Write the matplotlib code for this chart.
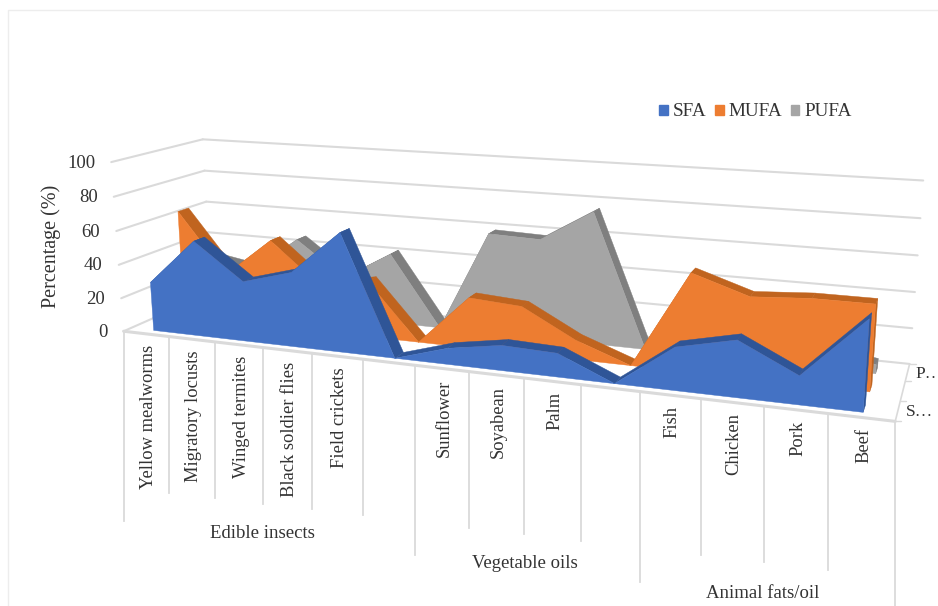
import numpy as np
import matplotlib
matplotlib.use("Agg")
import matplotlib.pyplot as plt
from matplotlib.patches import Patch

plt.rcParams["font.family"] = ["Liberation Serif", "DejaVu Serif"]

# Fatty acid composition (%) for each food; blank slots separate the groups
categories = ["Yellow mealworms", "Migratory locusts", "Winged termites",
              "Black soldier flies", "Field crickets", "",
              "Sunflower", "Soyabean", "Palm", "",
              "Fish", "Chicken", "Pork", "Beef"]
groups = ["Edible insects", "Vegetable oils", "Animal fats/oil"]
sfa = [29, 56, 35, 43, 68, 0, 9, 14, 13, 0, 23, 30, 15, 47]
mufa = [65, 29, 52, 28, 33, 0, 29, 27, 11, 0, 54, 44, 46, 46]
pufa = [30, 25, 46, 25, 42, 0, 59, 58, 76, 0, 20, 20, 10, 5]
value_ticks = [0, 20, 40, 60, 80, 100]
series_ticks = ["S…", "P…"]

COLORS = {"SFA": ("#4472C4", "#2F5597"),
          "MUFA": ("#ED7D31", "#C0641F"),
          "PUFA": ("#A5A5A5", "#7F7F7F")}
GRID = "#DADADA"
TEXT = "#333333"

# Camera solved from the box corners: (category, depth, percent) -> canvas pixel
corners = [((0, 0, 0), (125, 330)), ((14, 0, 0), (895, 423)),
           ((14, 1, 0), (910, 362)), ((0, 1, 0), (210, 294)),
           ((0, 0, 100), (110, 162)), ((0, 1, 100), (204, 139)),
           ((14, 1, 100), (923, 181))]
rows, rhs = [], []
for (u, d, z), (px, py) in corners:
    rows.append([u, d, z, 1, 0, 0, 0, 0, -px * u, -px * d, -px * z])
    rows.append([0, 0, 0, 0, u, d, z, 1, -py * u, -py * d, -py * z])
    rhs += [px, py]
cam = np.append(np.linalg.lstsq(np.array(rows, float), np.array(rhs, float), rcond=None)[0], 1).reshape(3, 4)


def project(u, d, z):
    h = cam @ np.array([u, d, z, 1.0])
    return h[0] / h[2], h[1] / h[2]


fig = plt.figure(figsize=(9.38, 6.06), dpi=100)
ax = fig.add_axes([0, 0, 1, 1])
ax.set_xlim(0, 938)
ax.set_ylim(606, 0)
ax.axis("off")

# Chart frame
ax.plot([8, 8, 938], [606, 10, 10], color="#EDEDED", lw=1, zorder=0)


def seg(p, q, **kw):
    ax.plot([p[0], q[0]], [p[1], q[1]], solid_capstyle="round", **kw)


# Walls and floor sit behind the ribbons
for v in value_ticks:
    seg(project(0, 0, v), project(0, 1, v), color=GRID, lw=1.5, zorder=0.5)
    seg(project(0, 1, v), project(14, 1, v), color=GRID, lw=1.5, zorder=0.5)
    x, y = project(0, 0, v)
    ax.text(x - 16, y + 1, str(v), ha="right", va="center", fontsize=13.5, color=TEXT)
seg(project(14, 0, 0), project(14, 1, 0), color=GRID, lw=1.2, zorder=0.5)
for d in (0, 1 / 3, 2 / 3, 1):
    x, y = project(14, d, 0)
    seg((x, y), (x + 6, y), color=GRID, lw=1.0, zorder=0.5)
for d, lab in zip((1 / 6, 5 / 6), series_ticks):
    x, y = project(14, d, 0)
    ax.text(x + 8, y + 1, lab, ha="left", va="center", fontsize=12.5, color=TEXT)

# Area ribbons, back to front
ribbons = [("PUFA", pufa, 0.75), ("MUFA", mufa, 0.42), ("SFA", sfa, 0.08)]
THICK = 0.12
for name, vals, d0 in ribbons:
    face, band = COLORS[name]
    d1 = d0 + THICK
    us = np.arange(len(vals)) + 0.5
    for i in range(len(vals) - 1):
        quad = [project(us[i], d0, vals[i]), project(us[i + 1], d0, vals[i + 1]),
                project(us[i + 1], d1, vals[i + 1]), project(us[i], d1, vals[i])]
        ax.fill(*zip(*quad), color=band, lw=0.3, zorder=1)
    cap = [project(us[-1], d0, 0), project(us[-1], d0, vals[-1]),
           project(us[-1], d1, vals[-1]), project(us[-1], d1, 0)]
    ax.fill(*zip(*cap), color=band, lw=0.3, zorder=1)
    outline = [project(us[0], d0, 0)] + [project(u, d0, v) for u, v in zip(us, vals)] + [project(us[-1], d0, 0)]
    ax.fill(*zip(*outline), color=face, lw=0.3, zorder=1)

# Front floor edge and the two-level category axis
seg(project(0, 0, 0), project(14, 0, 0), color=GRID, lw=2.2, zorder=2)
group_edges = (0, 6, 10, 14)
for k in range(15):
    x, y = project(k, 0, 0)
    drop = 190 if k in group_edges else 156
    ax.plot([x, x], [y, min(y + drop, 606)], color=GRID, lw=1.3, zorder=0.5)
for k, lab in enumerate(categories):
    x, y = project(k + 0.5, 0, 0)
    ax.text(x + 2, y + 11, lab, rotation=90, ha="center", va="top", fontsize=13.3, color=TEXT)
for lab, (gx, gy) in zip(groups, [(262, 533), (525, 564), (763, 593)]):
    ax.text(gx, gy, lab, ha="center", va="center", fontsize=13.5, color=TEXT)

ax.text(51, 246, "Percentage (%)", rotation=90, ha="center", va="center", fontsize=14.5, color=TEXT)

handles = [Patch(color=COLORS[n][0], label=n) for n in COLORS]
ax.legend(handles=handles, ncol=3, frameon=False, fontsize=13.8, loc="center",
          bbox_to_anchor=(755.5, 112), bbox_transform=ax.transData,
          handlelength=0.45, handleheight=0.45, handletextpad=0.25, columnspacing=0.45,
          labelcolor=TEXT)

fig.savefig("out.png", dpi=100)
